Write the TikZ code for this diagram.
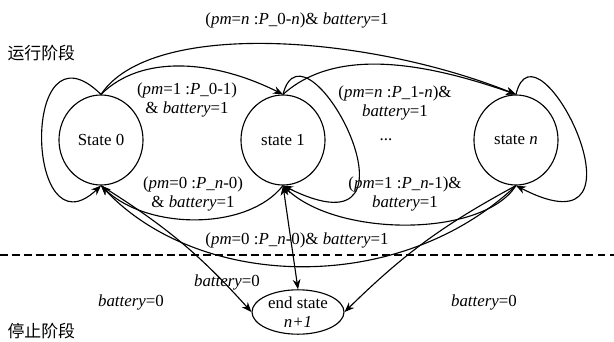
\documentclass[tikz,border=0pt]{standalone}
\usepackage{fontspec}
\setmainfont{Liberation Serif}
\newfontfamily\cjk{Noto Sans CJK SC}
\usetikzlibrary{shapes.geometric, arrows.meta, positioning, calc}

\begin{document}
\begin{tikzpicture}[
  x=0.025cm, y=0.025cm, line width=0.8pt,
  state/.style={ellipse, draw, minimum width=2.1cm, minimum height=2.25cm, inner sep=0pt, font=\fontsize{12}{14}\selectfont},
  final/.style={ellipse, draw, minimum width=2.3cm, minimum height=1.05cm, inner sep=0pt, align=center, font=\fontsize{12}{14}\selectfont},
  lbl/.style={align=center, inner sep=1pt, font=\fontsize{12}{14}\selectfont},
  phase/.style={anchor=west, inner sep=0pt, font=\cjk\fontsize{12}{14}\selectfont},
  arrow/.style={-{Stealth[length=7pt, width=5.5pt]}},
  twoway/.style={{Stealth[length=7pt, width=5.5pt]}-{Stealth[length=7pt, width=5.5pt]}},
  border/.style={dash pattern=on 5.5pt off 3pt},
]
\useasboundingbox (0,0) rectangle (614,-342);

\node[state] (s0) at (101,-140) {State 0};
\node[state] (s1) at (283,-140) {state 1};
\node[state] (sn) at (516,-140) {state \textit{n}};
\node[final] (end) at (298,-312) {end state\\\textit{n+1}};

\node[phase] (run) at (7,-53) {运行阶段};
\node[phase] (stop) at (7,-331) {停止阶段};

\node[lbl] (l0n) at (297,-20) {(\textit{pm}=\textit{n} :\textit{P}\_0-\textit{n})\& \textit{battery}=1};
\node[lbl] (l01) at (187,-100) {(\textit{pm}=1 :\textit{P}\_0-1)\\\& \textit{battery}=1};
\node[lbl] (l1n) at (395,-103) {(\textit{pm}=\textit{n} :\textit{P}\_1-\textit{n})\&\\\textit{battery}=1};
\node[lbl] (dots) at (386,-140) {...};
\node[lbl] (ln0) at (193,-194) {(\textit{pm}=0 :\textit{P}\_\textit{n}-0)\\\& \textit{battery}=1};
\node[lbl] (ln1) at (405,-194) {(\textit{pm}=1 :\textit{P}\_\textit{n}-1)\&\\\textit{battery}=1};
\node[lbl] (lback) at (297,-240) {(\textit{pm}=0 :\textit{P}\_\textit{n}-0)\& \textit{battery}=1};
\node[lbl] (off1) at (227,-282) {\textit{battery}=0};
\node[lbl] (off0) at (131,-302) {\textit{battery}=0};
\node[lbl] (offn) at (484,-302) {\textit{battery}=0};

\coordinate (dl) at (0,-255);
\coordinate (dr) at (614,-255);

\draw[arrow] (s0.north) .. controls +(50,75) and +(-150,60) .. (sn.north);
\draw[arrow] (s0.north) .. controls +(40,40) and +(-70,35) .. (s1.north);
\draw[arrow] (s1.north) .. controls +(50,45) and +(-100,35) .. (sn.north);
\draw[arrow] (s0.north) .. controls +(-81,80) and +(-76,-72) .. (s0.south);
\draw[arrow] (s1.north) .. controls +(22,87) and +(157,-78) .. (s1.south);
\draw[arrow] (sn.north) .. controls +(20,85) and +(145,-75) .. (sn.south);
\draw[arrow] (sn.south) .. controls +(-33,-52) and +(55,-52) .. (s1.south);
\draw[arrow] (s1.south) .. controls +(-35,-45) and +(47,-45) .. (s0.south);
\draw[arrow] (sn.south) .. controls +(-116,-110) and +(99,-105) .. (s0.south);
\draw[arrow] (s0.south) to[bend left=8] (end.west);
\draw[arrow] (sn.south) to[bend right=8] (end.east);
\draw[twoway] (s1.south) -- (end.north);
\draw[border] (dl) -- (dr);

\end{tikzpicture}
\end{document}
